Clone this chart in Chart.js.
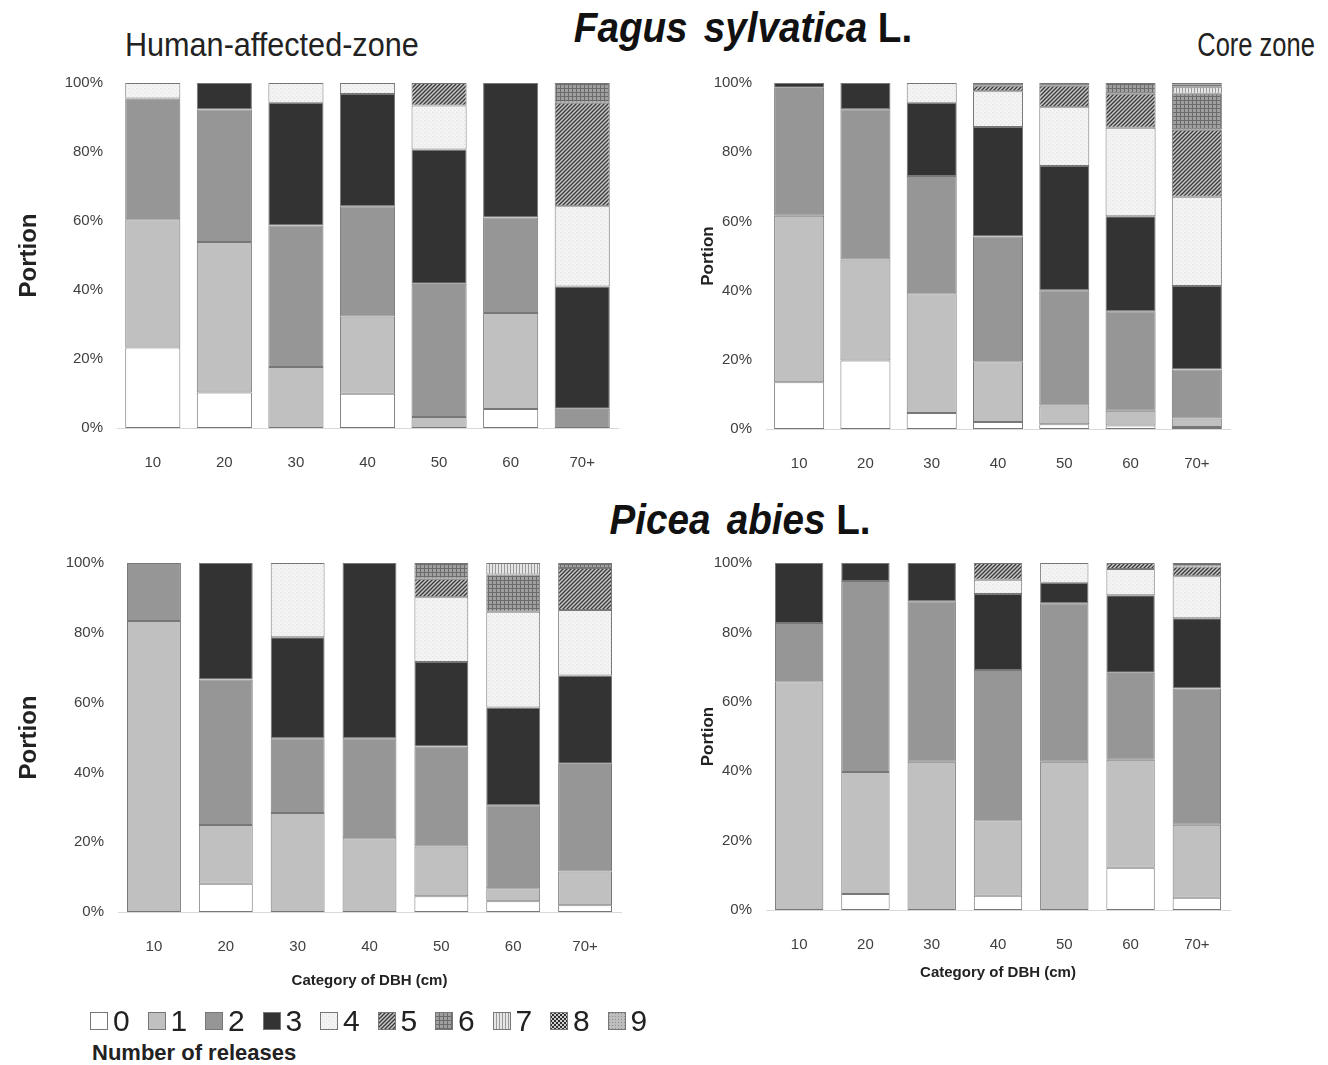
<!DOCTYPE html>
<html>
<head>
<meta charset="utf-8">
<script src="https://cdn.jsdelivr.net/npm/chart.js@4.4.1/dist/chart.umd.min.js"></script>
<style>
  body { margin: 0; background: #fff; width: 1328px; height: 1065px; position: relative; overflow: hidden; }
  canvas.panel { position: absolute; }
  .species { position: absolute; transform: translateX(-50%) scaleX(0.92); white-space: nowrap; color: #111;
             font-family: "Liberation Sans", Arial, sans-serif; font-weight: bold; font-size: 42px; }
  .species i { word-spacing: 6px; }
  .zone { position: absolute; white-space: nowrap; color: #222;
          font-family: "Liberation Sans", Arial, sans-serif; font-size: 34px; }
  #legend { position: absolute; left: 90px; top: 1004px; display: flex; font-family: "Liberation Sans", sans-serif; }
  #legend .item { width: 57.5px; display: flex; align-items: center; font-size: 30px; color: #222; }
  #legend canvas { margin-right: 5px; }
  #legendTitle { position: absolute; left: 92px; top: 1040px; font-family: "Liberation Sans", sans-serif;
                 font-weight: bold; font-size: 22px; color: #222; }
</style>
</head>
<body>
<div class="species" style="left:743px; top:4px;"><i>Fagus sylvatica</i> L.</div>
<div class="species" style="left:740px; top:496px;"><i>Picea abies</i> L.</div>
<div class="zone" style="left:125px; top:25px; transform:scaleX(0.9); transform-origin:left;">Human-affected-zone</div>
<div class="zone" style="right:13px; top:25px; transform:scaleX(0.75); transform-origin:right;">Core zone</div>

<canvas id="fagusHumanChart" class="panel" width="640" height="420" style="left:0; top:60px;"></canvas>
<canvas id="fagusCoreChart" class="panel" width="600" height="420" style="left:660px; top:60px;"></canvas>
<canvas id="piceaHumanChart" class="panel" width="650" height="470" style="left:0; top:540px;"></canvas>
<canvas id="piceaCoreChart" class="panel" width="600" height="470" style="left:660px; top:540px;"></canvas>

<div id="legend"></div>
<div id="legendTitle">Number of releases</div>

<script>
// DBH classes and release counts
const categories = ['10', '20', '30', '40', '50', '60', '70+'];
const releases = ['0', '1', '2', '3', '4', '5', '6', '7', '8', '9'];

// share (%) of trees per number of releases, one row per release count
const fagusHuman = [
    [23.3, 10.3, 0, 9.9, 0, 5.5, 0],
    [37.2, 43.6, 17.7, 22.4, 3.2, 27.8, 0],
    [35.0, 38.4, 41.0, 32.0, 38.6, 27.7, 5.6],
    [0, 7.7, 35.6, 32.5, 38.9, 39.0, 35.4],
    [4.5, 0, 5.7, 3.2, 12.8, 0, 23.3],
    [0, 0, 0, 0, 6.5, 0, 30.0],
    [0, 0, 0, 0, 0, 0, 5.7]
];
const fagusCore = [
    [13.5, 19.8, 4.6, 2.0, 1.4, 1.0, 0.6],
    [48.1, 29.2, 34.6, 17.6, 5.4, 4.3, 2.4],
    [37.0, 43.4, 33.9, 36.0, 33.3, 28.7, 14.2],
    [1.4, 7.6, 21.2, 31.7, 35.9, 27.5, 24.1],
    [0, 0, 5.7, 10.3, 17.0, 25.6, 25.8],
    [0, 0, 0, 1.6, 6.2, 9.8, 19.4],
    [0, 0, 0, 0.8, 0.8, 3.1, 10.4],
    [0, 0, 0, 0, 0, 0, 2.0],
    [0, 0, 0, 0, 0, 0, 0.6],
    [0, 0, 0, 0, 0, 0, 0.5]
];
const piceaHuman = [
    [0, 8.1, 0, 0, 4.5, 3.1, 1.9],
    [83.4, 16.8, 28.4, 21.1, 14.3, 3.7, 9.7],
    [16.6, 41.7, 21.4, 28.7, 28.6, 23.8, 30.9],
    [0, 33.4, 28.9, 50.2, 24.2, 28.0, 25.3],
    [0, 0, 21.3, 0, 18.6, 27.4, 18.7],
    [0, 0, 0, 0, 5.3, 0, 12.1],
    [0, 0, 0, 0, 4.5, 10.7, 1.4],
    [0, 0, 0, 0, 0, 3.3, 0]
];
const piceaCore = [
    [0, 4.6, 0, 4.1, 0, 12.2, 3.5],
    [65.9, 35.2, 42.7, 21.8, 42.7, 31.1, 21.1],
    [16.8, 55.0, 46.3, 43.3, 45.7, 25.1, 39.2],
    [17.3, 5.2, 11.0, 21.9, 5.9, 22.3, 20.3],
    [0, 0, 0, 4.1, 5.7, 7.6, 12.1],
    [0, 0, 0, 4.8, 0, 1.7, 2.8],
    [0, 0, 0, 0, 0, 0, 1.0]
];

// fill for each release count: flat greys, then small texture tiles
function tile(size, draw) {
    const c = document.createElement('canvas');
    c.width = size; c.height = size;
    const g = c.getContext('2d');
    draw(g, size);
    return g.createPattern(c, 'repeat');
}

const fills = [
    '#ffffff',
    '#c0c0c0',
    '#969696',
    '#333333',
    tile(4, (g) => { g.fillStyle = '#f3f3f3'; g.fillRect(0, 0, 4, 4); g.fillStyle = '#e2e2e2'; g.fillRect(0, 0, 1, 1); g.fillRect(2, 2, 1, 1); }),
    tile(4, (g) => {
        g.fillStyle = '#c8c8c8'; g.fillRect(0, 0, 4, 4);
        g.strokeStyle = '#383838'; g.lineWidth = 1.3;
        g.beginPath(); g.moveTo(-1, 5); g.lineTo(5, -1); g.moveTo(-3, 3); g.lineTo(3, -3); g.moveTo(1, 7); g.lineTo(7, 1); g.stroke();
    }),
    tile(4, (g) => { g.fillStyle = '#a0a0a0'; g.fillRect(0, 0, 4, 4); g.fillStyle = '#6c6c6c'; g.fillRect(0, 0, 4, 1); g.fillRect(0, 0, 1, 4); }),
    tile(3, (g) => { g.fillStyle = '#e6e6e6'; g.fillRect(0, 0, 3, 3); g.fillStyle = '#9a9a9a'; g.fillRect(0, 0, 1, 3); }),
    tile(4, (g) => { g.fillStyle = '#cfcfcf'; g.fillRect(0, 0, 4, 4); g.fillStyle = '#2e2e2e'; g.fillRect(0, 0, 2, 2); g.fillRect(2, 2, 2, 2); }),
    tile(3, (g) => { g.fillStyle = '#bdbdbd'; g.fillRect(0, 0, 3, 3); g.fillStyle = '#8e8e8e'; g.fillRect(1, 1, 1, 1); })
];

const tickFont = { family: '"Liberation Sans", Arial, sans-serif', size: 15 };
const tickColor = '#404040';

function drawPanel(id, rows, o) {
    const datasets = rows.map((row, i) => ({
        label: releases[i],
        data: row.map(v => v === 0 ? null : v),
        backgroundColor: fills[i],
        borderColor: '#777777',
        borderWidth: 1,
        borderSkipped: false,
        barPercentage: o.barPct,
        categoryPercentage: 1
    }));

    new Chart(document.getElementById(id), {
        type: 'bar',
        data: { labels: categories, datasets: datasets },
        options: {
            responsive: false,
            animation: false,
            layout: { padding: { left: 0, top: 20, right: o.right, bottom: 0 } },
            plugins: { legend: { display: false }, tooltip: { enabled: false } },
            scales: {
                x: {
                    stacked: true,
                    grid: { display: false, drawTicks: false },
                    border: { display: true, color: '#d9d9d9', width: 1 },
                    ticks: { font: tickFont, color: tickColor, padding: o.xPad },
                    title: {
                        display: !!o.xTitle,
                        text: o.xTitle || '',
                        font: { family: '"Liberation Sans", Arial, sans-serif', size: 15, weight: 'bold' },
                        color: '#222',
                        padding: { top: 0, bottom: o.xTitlePad || 0 }
                    },
                    afterFit: s => { s.height = o.xHeight; }
                },
                y: {
                    stacked: true,
                    min: 0,
                    max: 100,
                    grid: { display: false, drawTicks: false },
                    border: { display: false },
                    ticks: { stepSize: 20, font: tickFont, color: tickColor, padding: 14, callback: v => v + '%' },
                    title: {
                        display: true,
                        text: 'Portion',
                        font: { family: '"Liberation Sans", Arial, sans-serif', size: o.yTitleSize, weight: 'bold' },
                        color: '#222',
                        padding: { top: o.yTitlePad, bottom: 0 }
                    },
                    afterFit: s => { s.width = o.yWidth; }
                }
            }
        }
    });
}

drawPanel('fagusHumanChart', fagusHuman, { barPct: 0.77, right: 22, yWidth: 117, xHeight: 52, xPad: 26, yTitleSize: 24, yTitlePad: 15 });
drawPanel('fagusCoreChart', fagusCore, { barPct: 0.755, right: 30, yWidth: 106, xHeight: 51, xPad: 26, yTitleSize: 17, yTitlePad: 38 });
drawPanel('piceaHumanChart', piceaHuman, { barPct: 0.75, right: 29, yWidth: 118, xHeight: 98, xPad: 26, xTitle: 'Category of DBH (cm)', xTitlePad: 20, yTitleSize: 24, yTitlePad: 15 });
drawPanel('piceaCoreChart', piceaCore, { barPct: 0.73, right: 30, yWidth: 106, xHeight: 100, xPad: 26, xTitle: 'Category of DBH (cm)', xTitlePad: 28, yTitleSize: 17, yTitlePad: 38 });

// legend swatches share the bar fills
const legend = document.getElementById('legend');
releases.forEach((r, i) => {
    const item = document.createElement('div');
    item.className = 'item';
    const sw = document.createElement('canvas');
    sw.width = 18; sw.height = 18;
    const g = sw.getContext('2d');
    g.fillStyle = fills[i];
    g.fillRect(0, 0, 18, 18);
    g.strokeStyle = '#777';
    g.lineWidth = 1;
    g.strokeRect(0.5, 0.5, 17, 17);
    item.appendChild(sw);
    item.appendChild(document.createTextNode(r));
    legend.appendChild(item);
});
</script>
</body>
</html>
